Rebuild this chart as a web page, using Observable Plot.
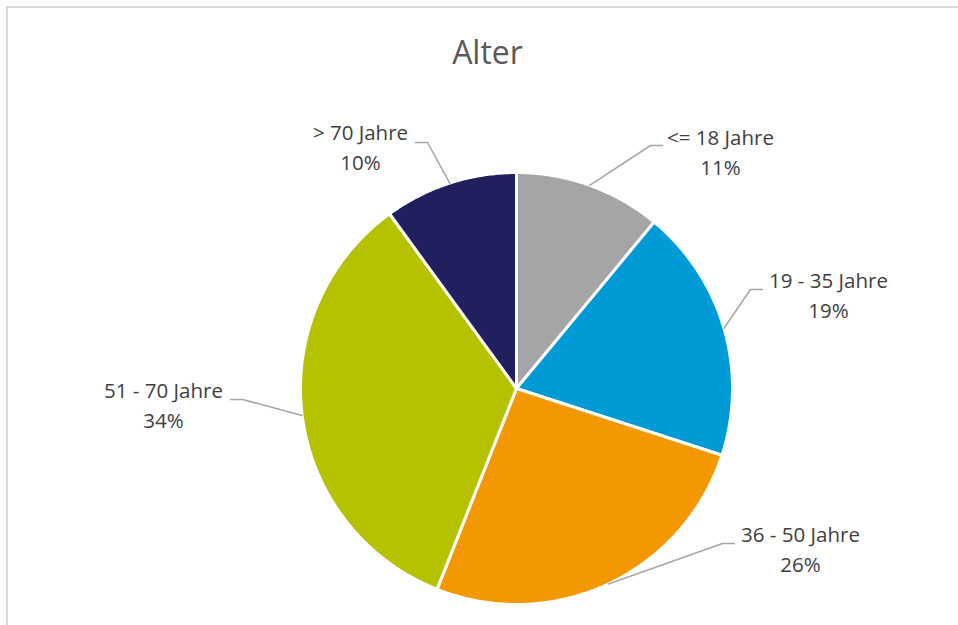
<!DOCTYPE html>
<html>
<head>
<meta charset="utf-8">
<script src="https://cdn.jsdelivr.net/npm/d3@7"></script>
<script src="https://cdn.jsdelivr.net/npm/@observablehq/plot@0.6"></script>
<style>
  html, body { margin: 0; padding: 0; background: #ffffff; }
  #wrap { position: relative; width: 958px; height: 625px; overflow: hidden; }
  #frame { position: absolute; left: 6px; top: 6px; width: 1000px; height: 700px;
           border-left: 2px solid #d9d9d9; border-top: 2px solid #d9d9d9; pointer-events: none; }
</style>
</head>
<body>
<div id="wrap"><div id="frame"></div></div>
<script>
// ---- data ----
const title = "Alter";
const categories = ["<= 18 Jahre", "19 - 35 Jahre", "36 - 50 Jahre", "51 - 70 Jahre", "> 70 Jahre"];
const shares = [11, 19, 26, 34, 10];
const colors = ["#a5a5a5", "#009ad6", "#f39800", "#b5c200", "#21205f"];

// ---- layout (pixel units, origin at pie centre, y up) ----
const W = 958, H = 625;
const cx = 516, cy = 388, R = 216;
const labelPos = [      // text centre x, first-line top y
  [204, 264], [312, 121], [284, -133], [-353, 11], [-156, 269]
];
const elbowPos = [      // leader line elbow
  [134, 243], [234, 99], [206, -155], [-274, -11], [-89, 246]
];
const elbowSide = [1, 1, 1, -1, -1];

// ---- derived geometry ----
const arcs = d3.pie().sort(null).value(d => d)(shares);
const slicePts = [];
arcs.forEach((a, i) => {
  const cat = categories[i];
  slicePts.push({cat, x: 0, y: 0});
  const n = Math.max(2, Math.ceil((a.endAngle - a.startAngle) / (Math.PI / 360)));
  for (let k = 0; k <= n; k++) {
    const t = a.startAngle + (a.endAngle - a.startAngle) * k / n;
    slicePts.push({cat, x: R * Math.sin(t), y: R * Math.cos(t)});
  }
});

const leaderPts = [];
arcs.forEach((a, i) => {
  const cat = categories[i];
  const m = (a.startAngle + a.endAngle) / 2;
  const [ex, ey] = elbowPos[i];
  leaderPts.push({cat, x: R * Math.sin(m), y: R * Math.cos(m)});
  leaderPts.push({cat, x: ex, y: ey});
  leaderPts.push({cat, x: ex + 12 * elbowSide[i], y: ey});
});

const labels = categories.map((c, i) => ({
  cat: c, x: labelPos[i][0], y: labelPos[i][1],
  text: c + "\n" + shares[i] + "%"
}));

const chart = Plot.plot({
  width: W, height: H,
  margin: 0,
  x: {domain: [-cx, W - cx], axis: null},
  y: {domain: [cy - H, cy], axis: null},
  color: {domain: categories, range: colors},
  style: {fontFamily: "'Open Sans', sans-serif", background: "transparent"},
  marks: [
    Plot.line(slicePts, {x: "x", y: "y", z: "cat", fill: "cat", stroke: "#ffffff",
      strokeWidth: 3, strokeLinejoin: "round", curve: "linear-closed"}),
    Plot.line(leaderPts, {x: "x", y: "y", z: "cat", stroke: "#a6a6a6", strokeWidth: 1.5}),
    Plot.text(labels, {x: "x", y: "y", text: "text", lineAnchor: "top", textAnchor: "middle",
      lineHeight: 1.43, fontSize: 20.5, fill: "#404040"}),
    Plot.text([title], {frameAnchor: "top", dx: 8, dy: 53, text: d => d, fontSize: 32,
      fill: "#595959", lineAnchor: "middle"})
  ]
});
document.getElementById("wrap").insertBefore(chart, document.getElementById("frame"));
</script>
</body>
</html>
